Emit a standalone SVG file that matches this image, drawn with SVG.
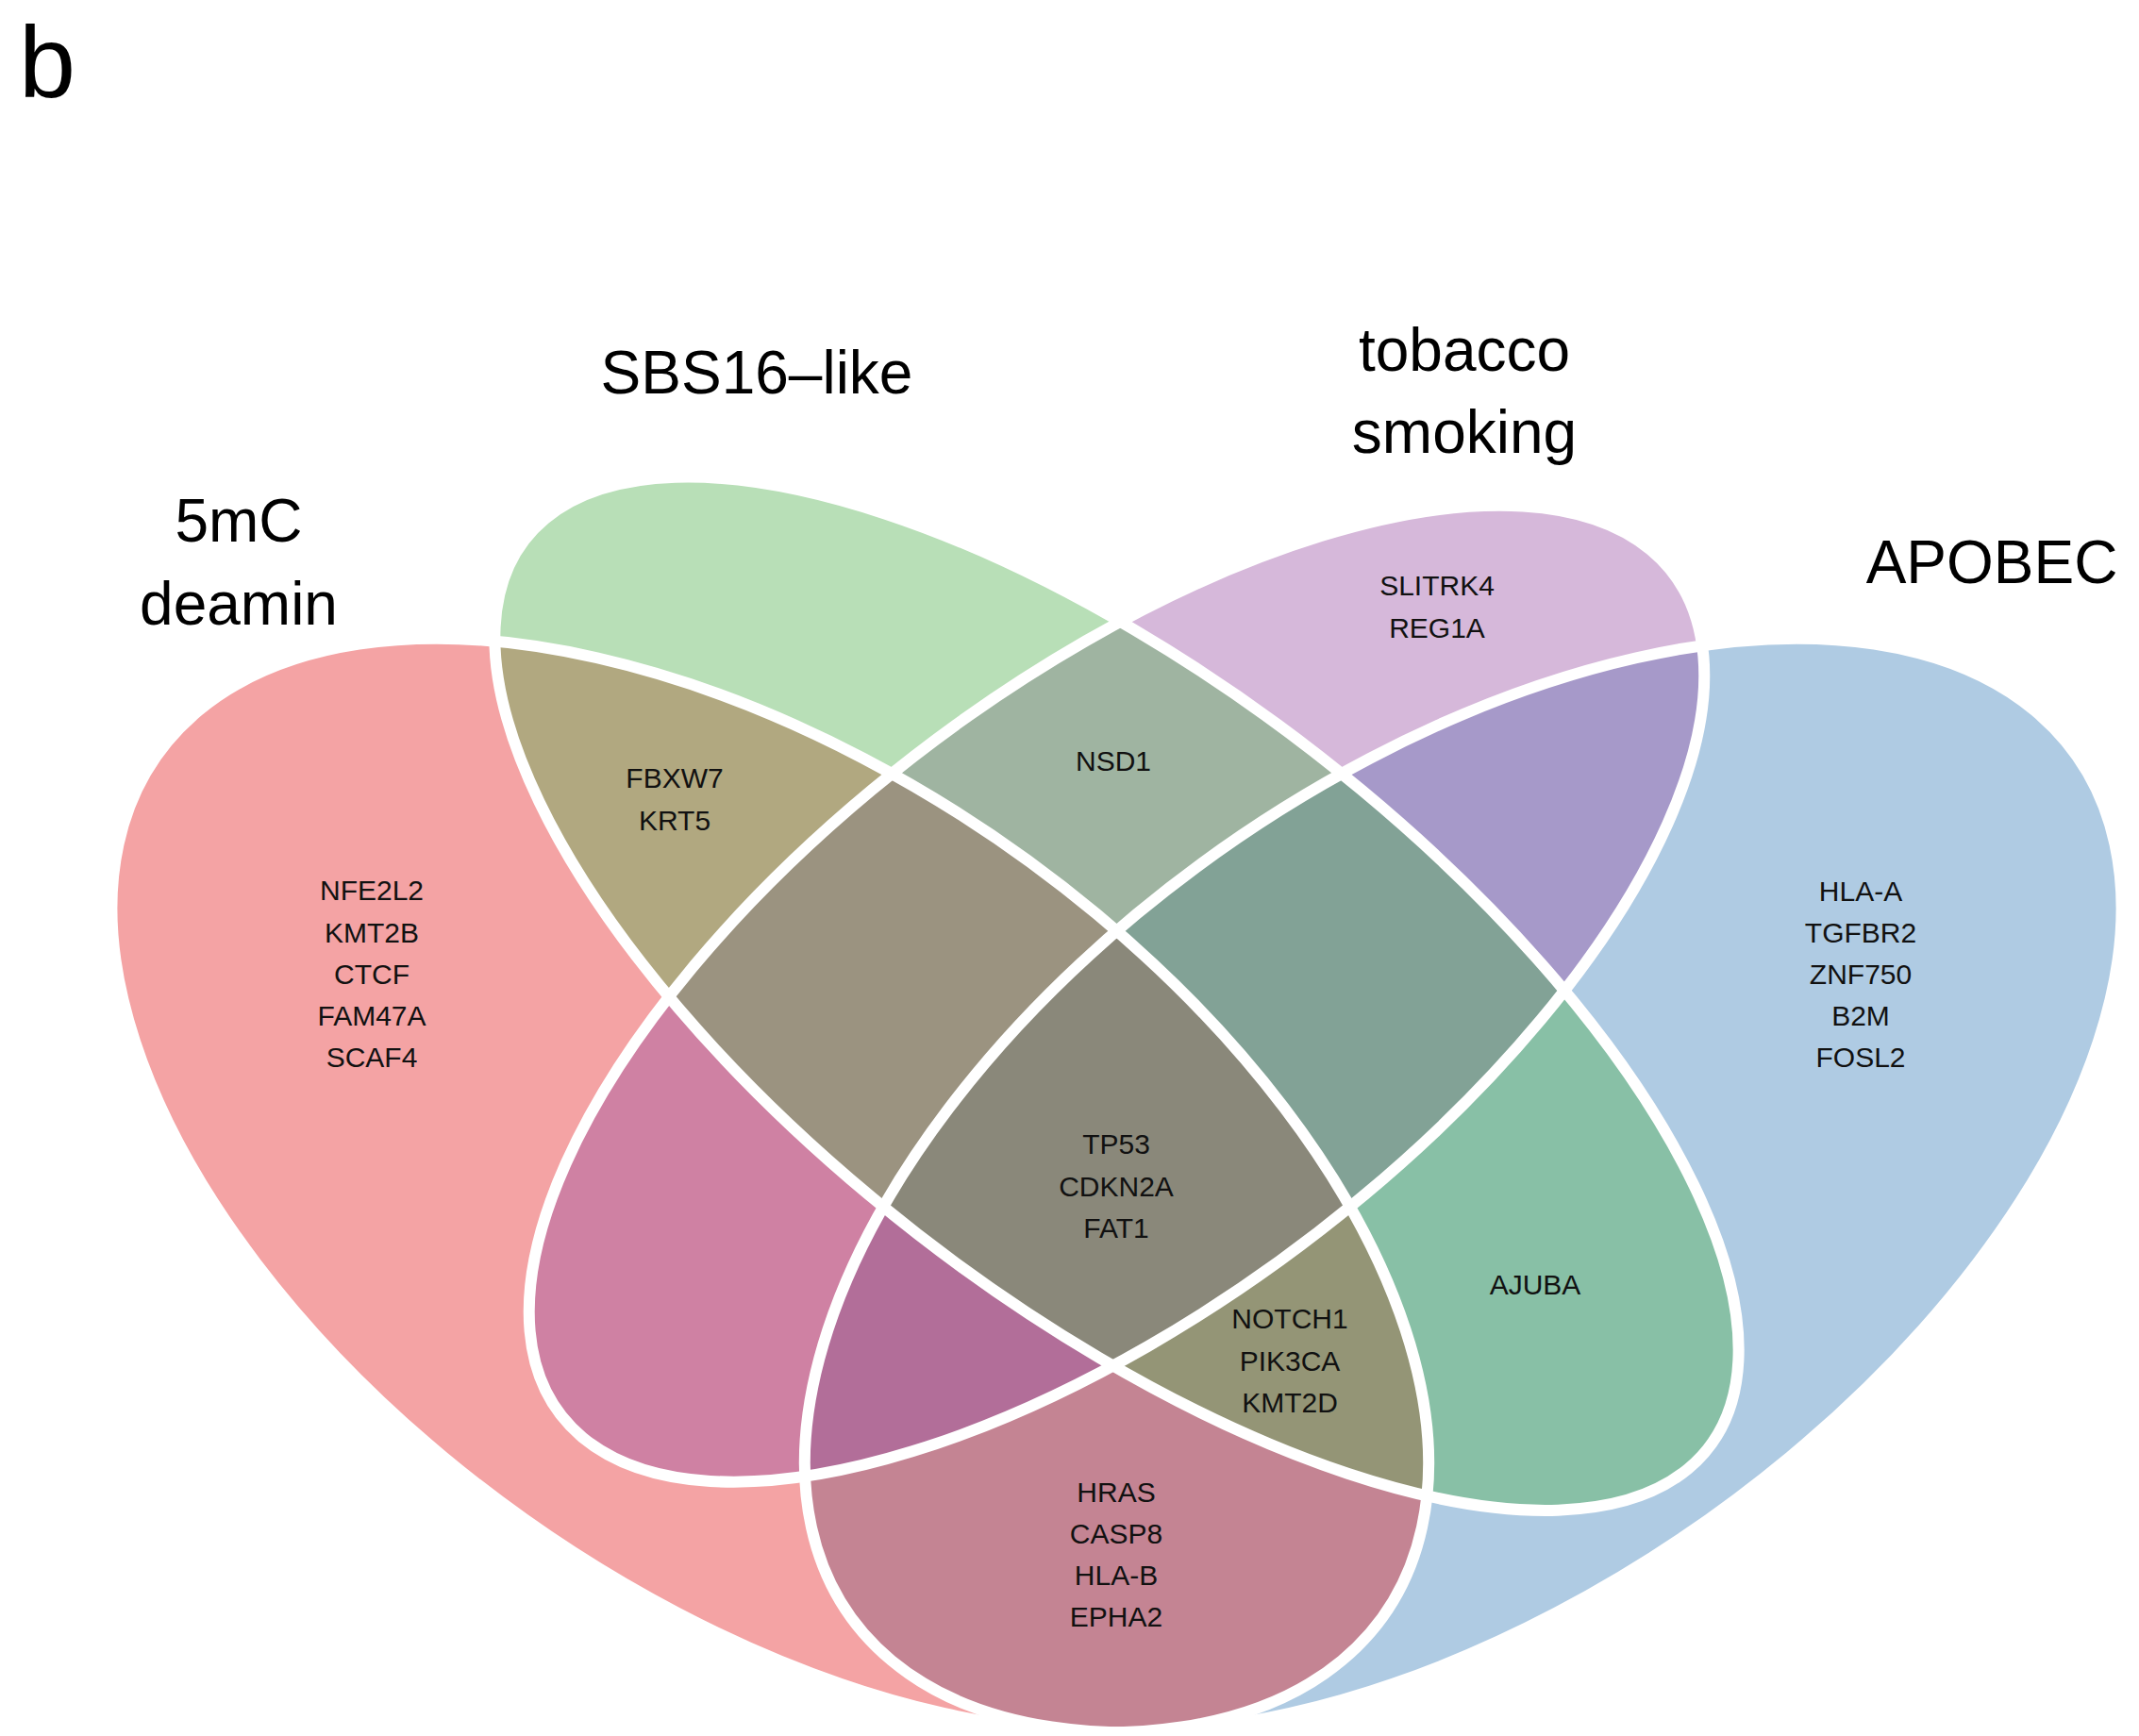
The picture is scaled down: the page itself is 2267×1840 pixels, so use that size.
<svg xmlns="http://www.w3.org/2000/svg" xmlns:xlink="http://www.w3.org/1999/xlink" width="2267" height="1840" viewBox="0 0 2267 1840">
<style>
.f{stroke:none;fill-opacity:0.4}
.o{fill:none;stroke:#ffffff;stroke-width:12}
.cat{font-family:"Liberation Sans",Arial,sans-serif;font-size:64px;fill:#000;text-anchor:middle}
.lab{font-family:"Liberation Sans",Arial,sans-serif;font-size:30px;fill:#111;text-anchor:middle}
</style>
<defs>
<ellipse id="eA" cx="0.35" cy="0.47" rx="0.35" ry="0.2" transform="rotate(135 0.35 0.47)" vector-effect="non-scaling-stroke"/>
<ellipse id="eB" cx="0.5" cy="0.57" rx="0.35" ry="0.15" transform="rotate(135 0.5 0.57)" vector-effect="non-scaling-stroke"/>
<ellipse id="eC" cx="0.5" cy="0.57" rx="0.327" ry="0.15" transform="rotate(45 0.5 0.57)" vector-effect="non-scaling-stroke"/>
<ellipse id="eD" cx="0.65" cy="0.47" rx="0.35" ry="0.2" transform="rotate(45 0.65 0.47)" vector-effect="non-scaling-stroke"/>
</defs>
<rect width="2267" height="1840" fill="#ffffff"/>
<text x="20" y="103" style="font-family:'Liberation Sans',Arial,sans-serif;font-size:108px;fill:#000">b</text>
<g transform="matrix(2448 0 0 -2034 -40.5 2212.6)">
<g id="set-apobec"><use xlink:href="#eD" class="f" fill="#377EB8"/></g>
<g id="set-5mc"><use xlink:href="#eA" class="f" fill="#E41A1C"/></g>
<g id="set-tobacco"><use xlink:href="#eC" class="f" fill="#984EA3"/></g>
<g id="set-sbs16"><use xlink:href="#eB" class="f" fill="#4DAF4A"/></g>
<g id="outlines">
<use xlink:href="#eD" class="o"/>
<use xlink:href="#eA" class="o"/>
<use xlink:href="#eC" class="o"/>
<use xlink:href="#eB" class="o"/>
</g>
</g>
<g id="category-labels">
<text class="cat" x="253" y="574">5mC</text>
<text class="cat" x="253" y="662">deamin</text>
<text class="cat" x="802" y="417">SBS16–like</text>
<text class="cat" x="1552" y="393">tobacco</text>
<text class="cat" x="1552" y="480">smoking</text>
<text class="cat" x="2111" y="618">APOBEC</text>
</g>
<g id="region-labels">
<g id="r-5mc">
<text class="lab" x="394" y="954">NFE2L2</text>
<text class="lab" x="394" y="999">KMT2B</text>
<text class="lab" x="394" y="1043">CTCF</text>
<text class="lab" x="394" y="1087">FAM47A</text>
<text class="lab" x="394" y="1131">SCAF4</text>
</g>
<g id="r-5mc-sbs16">
<text class="lab" x="715" y="835">FBXW7</text>
<text class="lab" x="715" y="880">KRT5</text>
</g>
<g id="r-sbs16-tobacco"><text class="lab" x="1180" y="817">NSD1</text></g>
<g id="r-tobacco">
<text class="lab" x="1523" y="631">SLITRK4</text>
<text class="lab" x="1523" y="676">REG1A</text>
</g>
<g id="r-apobec">
<text class="lab" x="1972" y="955">HLA-A</text>
<text class="lab" x="1972" y="999">TGFBR2</text>
<text class="lab" x="1972" y="1043">ZNF750</text>
<text class="lab" x="1972" y="1087">B2M</text>
<text class="lab" x="1972" y="1131">FOSL2</text>
</g>
<g id="r-all">
<text class="lab" x="1183" y="1223">TP53</text>
<text class="lab" x="1183" y="1268">CDKN2A</text>
<text class="lab" x="1183" y="1312">FAT1</text>
</g>
<g id="r-sbs16-tobacco-apobec">
<text class="lab" x="1367" y="1408">NOTCH1</text>
<text class="lab" x="1367" y="1453">PIK3CA</text>
<text class="lab" x="1367" y="1497">KMT2D</text>
</g>
<g id="r-sbs16-apobec"><text class="lab" x="1627" y="1372">AJUBA</text></g>
<g id="r-5mc-apobec">
<text class="lab" x="1183" y="1592">HRAS</text>
<text class="lab" x="1183" y="1636">CASP8</text>
<text class="lab" x="1183" y="1680">HLA-B</text>
<text class="lab" x="1183" y="1724">EPHA2</text>
</g>
</g>
</svg>
